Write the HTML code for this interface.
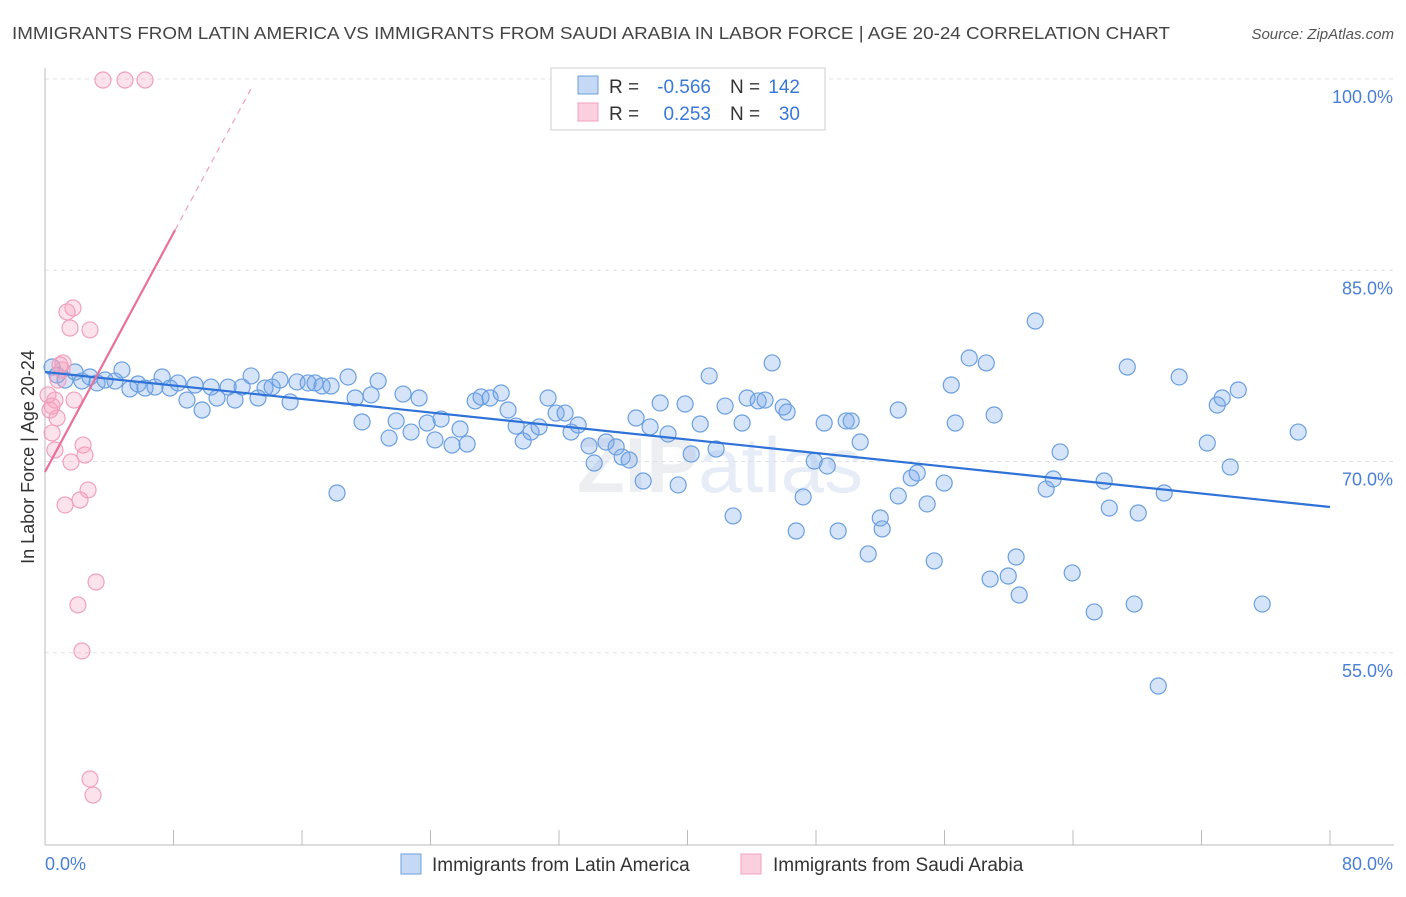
<!DOCTYPE html>
<html><head><meta charset="utf-8"><style>
body{margin:0;background:#fff;font-family:"Liberation Sans",sans-serif;}
svg text{font-family:"Liberation Sans",sans-serif;}
</style></head><body>
<svg id="chart" width="1406" height="892" viewBox="0 0 1406 892" xmlns="http://www.w3.org/2000/svg">
<text x="12" y="39" font-size="17.5" fill="#444" textLength="1158" lengthAdjust="spacingAndGlyphs">IMMIGRANTS FROM LATIN AMERICA VS IMMIGRANTS FROM SAUDI ARABIA IN LABOR FORCE | AGE 20-24 CORRELATION CHART</text>
<text x="1394" y="39" font-size="15" fill="#555" font-style="italic" text-anchor="end">Source: ZipAtlas.com</text>
<text x="720" y="492" font-size="78" fill="#eceef1" text-anchor="middle" font-weight="bold">ZIP<tspan fill="#e6edf7" font-weight="normal">atlas</tspan></text>
<g id="grid"></g>
<g id="axes"></g>
<g id="pts"></g>
<g id="lines"></g>
<g>
<rect x="551" y="68" width="274" height="62" fill="#fff" stroke="#ccc"/>
<rect x="578" y="76" width="20" height="18" fill="#c5d9f5" stroke="#6a9fe0"/>
<rect x="578" y="103" width="20" height="18" fill="#fbd0de" stroke="#f0a0bc"/>
<text x="609" y="93" font-size="19" fill="#333">R =</text>
<text x="711" y="93" font-size="19" fill="#3a78d8" text-anchor="end">-0.566</text>
<text x="730" y="93" font-size="19" fill="#333">N =</text>
<text x="800" y="93" font-size="19" fill="#3a78d8" text-anchor="end">142</text>
<text x="609" y="120" font-size="19" fill="#333">R =</text>
<text x="711" y="120" font-size="19" fill="#3a78d8" text-anchor="end">0.253</text>
<text x="730" y="120" font-size="19" fill="#333">N =</text>
<text x="800" y="120" font-size="19" fill="#3a78d8" text-anchor="end">30</text>
</g>
<g>
<rect x="401" y="854" width="20" height="20" fill="#c5d9f5" stroke="#6a9fe0"/>
<text x="432" y="871" font-size="19" fill="#333">Immigrants from Latin America</text>
<rect x="741" y="854" width="20" height="20" fill="#fbd0de" stroke="#f0a0bc"/>
<text x="773" y="871" font-size="19" fill="#333">Immigrants from Saudi Arabia</text>
</g>
</svg>
<script>
const yTicks=[100,85,70,55];
const yTickLabels=["100.0%","85.0%","70.0%","55.0%"];
const xTickLabels=["0.0%","80.0%"];
const blueX=[0.44,0.75,1.25,1.87,2.30,2.80,3.24,3.74,4.36,4.79,5.29,5.79,6.23,6.85,7.29,7.78,8.28,8.84,9.34,9.78,10.34,10.71,11.40,11.83,12.27,12.83,13.26,13.70,14.14,14.63,15.26,15.69,16.38,16.81,17.25,17.81,18.18,18.87,19.31,19.74,20.30,20.74,21.42,21.86,22.29,22.79,23.29,23.79,24.28,24.66,25.34,25.84,26.28,26.78,27.15,27.71,28.40,28.83,29.33,29.77,30.26,30.76,31.32,31.82,32.38,32.75,33.19,33.87,34.19,34.93,35.56,35.93,36.37,36.80,37.24,37.67,38.30,38.79,39.42,39.85,40.23,40.79,41.35,41.78,42.34,42.84,43.40,43.71,44.40,44.83,45.27,45.96,46.20,46.77,47.20,47.89,48.51,48.70,49.38,49.88,50.19,50.75,51.25,52.00,52.12,53.12,53.12,53.93,54.30,54.92,55.36,55.98,56.42,56.67,57.54,58.60,58.84,59.09,59.97,60.46,60.65,61.65,62.33,62.77,63.20,63.95,65.32,65.94,66.26,67.38,67.81,68.06,69.31,69.68,70.61,72.36,72.98,73.29,73.79,74.29,75.78,78.02];
const blueY=[77.41,76.78,76.39,77.02,76.31,76.63,76.16,76.39,76.31,77.18,75.69,76.08,75.76,75.84,76.63,75.76,76.16,74.82,76.00,74.04,75.84,74.98,75.84,74.82,75.84,76.71,74.98,75.76,75.84,76.39,74.67,76.24,76.16,76.16,75.92,75.92,67.53,76.63,74.98,73.10,75.22,76.31,71.84,73.18,75.29,72.31,74.98,73.02,71.69,73.33,71.29,72.55,71.37,74.75,75.06,74.98,75.37,74.04,72.78,71.61,72.31,72.71,74.98,73.80,73.80,72.31,72.86,71.22,69.88,71.53,71.14,70.35,70.12,73.41,68.47,72.71,74.59,72.16,68.16,74.51,70.59,72.94,76.71,70.98,74.35,65.73,73.02,74.98,74.75,74.82,77.73,74.27,73.88,64.55,67.22,70.04,73.02,69.65,64.55,73.18,73.18,71.53,62.75,65.57,64.71,67.30,74.04,68.71,69.10,66.67,62.20,68.31,76.00,73.02,78.12,77.73,60.78,73.65,61.02,62.51,59.53,81.02,67.84,68.63,70.75,61.26,58.20,68.47,66.35,77.41,58.82,65.96,52.39,67.53,76.63,71.45,74.43,74.98,69.57,75.61,58.82,72.31];
const pinkX=[3.61,4.98,6.23,0.19,0.31,0.44,0.62,0.75,0.93,1.12,1.25,1.37,1.56,1.74,1.62,1.81,2.05,2.18,2.37,2.49,2.68,2.80,3.18,2.30,2.80,2.99,0.44,0.62,1.06,0.81];
const pinkY=[99.92,99.92,99.92,75.22,74.04,72.24,70.90,73.41,77.57,77.73,66.59,81.73,80.47,82.04,69.96,74.82,58.75,66.98,71.29,70.51,67.77,80.32,60.55,55.14,45.10,43.84,74.35,74.82,77.18,76.39];
const blueFit=[77.02,66.43]; // y at x=0 and x=80
const pinkFit=[69.18,2.343]; // intercept, slope
const pinkSolidEnd=8.1, pinkDashEnd=12.83;

const X0=45,X1=1330,Y100=79,PXPER=12.75;
const sx=v=>X0+(X1-X0)*v/80;
const sy=v=>Y100+(100-v)*PXPER;
const NS="http://www.w3.org/2000/svg";
function mk(tag,attrs,parent){const e=document.createElementNS(NS,tag);for(const k in attrs)e.setAttribute(k,attrs[k]);parent.appendChild(e);return e;}
const grid=document.getElementById('grid'),axes=document.getElementById('axes'),pts=document.getElementById('pts'),lines=document.getElementById('lines');
yTicks.forEach((t,i)=>{
  const l=mk('line',{x1:X0,x2:1394,y1:sy(t),y2:sy(t),stroke:'#dde0e4','stroke-dasharray':'4 4'},grid);
  
  
  const tx=mk('text',{x:1393,y:sy(t)+24,'font-size':18,fill:'#4a7fd6','text-anchor':'end'},axes);
  tx.textContent=yTickLabels[i];
  
  
});
const ya=mk('line',{x1:X0,x2:X0,y1:68,y2:845,stroke:'#bbb'},axes);


const xa=mk('line',{x1:X0,x2:1394,y1:845,y2:845,stroke:'#bbb'},axes);


for(let i=0;i<=10;i++){
  const t=mk('line',{x1:sx(i*8),x2:sx(i*8),y1:830,y2:845,stroke:'#bbb'},axes);
  
  
}
const xl0=mk('text',{x:45,y:870,'font-size':18,fill:'#4a7fd6'},axes);xl0.textContent=xTickLabels[0];


const xl1=mk('text',{x:1393,y:870,'font-size':18,fill:'#4a7fd6','text-anchor':'end'},axes);xl1.textContent=xTickLabels[1];


const yt=mk('text',{x:0,y:0,'font-size':18,fill:'#333','text-anchor':'middle',transform:'translate(34,457) rotate(-90)'},axes);yt.textContent='In Labor Force | Age 20-24';



blueX.forEach((x,i)=>{
  const c=mk('circle',{cx:sx(x),cy:sy(blueY[i]),r:8,fill:'rgba(120,165,235,0.3)',stroke:'#6a9fe0','stroke-width':1.2},pts);
  
  
});
pinkX.forEach((x,i)=>{
  const c=mk('circle',{cx:sx(x),cy:sy(pinkY[i]),r:8,fill:'rgba(245,160,190,0.3)',stroke:'#f0a0bc','stroke-width':1.2},pts);
  
  
});
const bl=mk('line',{x1:sx(0),y1:sy(blueFit[0]),x2:sx(80),y2:sy(blueFit[1]),stroke:'#2f72d8','stroke-width':2.2},lines);


const pf=x=>pinkFit[0]+pinkFit[1]*x;
const pl=mk('line',{x1:sx(0),y1:sy(pf(0)),x2:sx(pinkSolidEnd),y2:sy(pf(pinkSolidEnd)),stroke:'#e8709a','stroke-width':2.2},lines);


const pd=mk('line',{x1:sx(pinkSolidEnd),y1:sy(pf(pinkSolidEnd)),x2:sx(pinkDashEnd),y2:sy(pf(pinkDashEnd)),stroke:'#f0a0bc','stroke-width':1.2,'stroke-dasharray':'6 5'},lines);


</script>
</body></html>
